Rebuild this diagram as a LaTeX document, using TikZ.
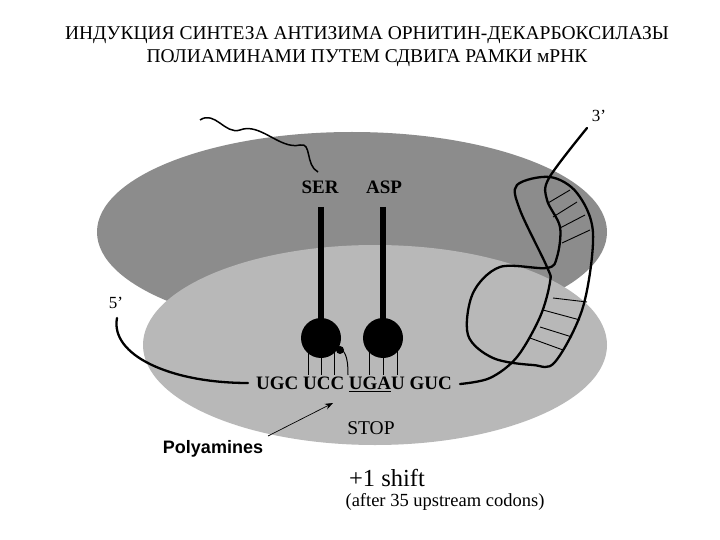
\documentclass[tikz,border=0pt]{standalone}
\usepackage{fontspec}
\setmainfont{Liberation Serif}
\newfontfamily\hv{Liberation Sans}
\usetikzlibrary{arrows.meta}
\begin{document}
\begin{tikzpicture}[x=1pt,y=-1pt,
 lab/.style={font=\bfseries\fontsize{19}{20}\selectfont},
 rna/.style={line width=2.3pt,line cap=round,line join=round}]
\useasboundingbox (0,0) rectangle (720,540);
\fill[fill=white] (0,0) rectangle (720,540);
\fill[black!45] (352,232) ellipse [x radius=255, y radius=100];
\fill[black!28] (375,345) ellipse [x radius=232, y radius=100];
\node (t1) at (367,35) {\fontsize{19.5}{21}\selectfont ИНДУКЦИЯ СИНТЕЗА АНТИЗИМА ОРНИТИН-ДЕКАРБОКСИЛАЗЫ};
\node (t2) at (367,58) {\fontsize{19.5}{21}\selectfont ПОЛИАМИНАМИ ПУТЕМ СДВИГА РАМКИ мРНК};
% tRNAs
\node[lab] (ser) at (320,187) {SER};
\node[lab] (asp) at (384,187) {ASP};
\draw[line width=6pt] (321,207) -- (321,325);
\draw[line width=6pt] (383,207) -- (383,325);
\fill (321,338) circle (20);
\fill (383,338) circle (20);
\foreach \x in {308,321,334,369,383,397} \draw (\x,350) -- (\x,375);
\draw[line width=1pt] (335,345) .. controls (345,350) and (348,355) .. (348,375);
\fill (340,350) circle (4);
% peptide
\draw[line width=1.5pt] (200,120) .. controls (215,110) and (225,135) .. (240,130) .. controls (260,122) and (280,150) .. (300,145) .. controls (312,142) and (305,165) .. (318,172);
% codons
\node[lab] (cod) at (354,384) {UGC UCC \underline{UGA}U GUC};
\node (five) at (116,303) {\fontsize{17}{18}\selectfont 5\char"27};
\node (three) at (599,116) {\fontsize{17}{18}\selectfont 3\char"27};
\draw[rna] (117,318) .. controls (110,355) and (170,383) .. (248,383);
\draw[rna] plot[smooth,tension=0.55] coordinates {(587,128) (549,178) (547,200) (560,227) (557,257) (547,268) (500,267) (473,293) (468,335) (493,358) (533,365) (555,362) (583,307) (593,233) (577,193) (550,177) (517,185) (520,210) (547,267) (550,282) (540,317) (517,357) (490,378) (460,384)};
\foreach \a/\b/\c/\d in {548/203/570/190, 553/217/577/202, 560/228/585/215, 562/243/590/230,
  553/298/587/302, 543/310/580/320, 540/327/572/337, 530/338/563/350}
  \draw[line width=0.9pt] (\a,\b) -- (\c,\d);
\node (stop) at (371,428) {\fontsize{19.5}{21}\selectfont STOP};
\node[font=\hv\bfseries\fontsize{18}{20}\selectfont] (poly) at (213,449) {Polyamines};
\draw[-{Stealth[length=8pt]},line width=0.7pt] (268,436) -- (333,403);
\node (shift) at (387,478) {\fontsize{24.5}{26}\selectfont +1 shift};
\node (after) at (445,502) {\fontsize{18.5}{20}\selectfont (after 35 upstream codons)};
\end{tikzpicture}
\end{document}
